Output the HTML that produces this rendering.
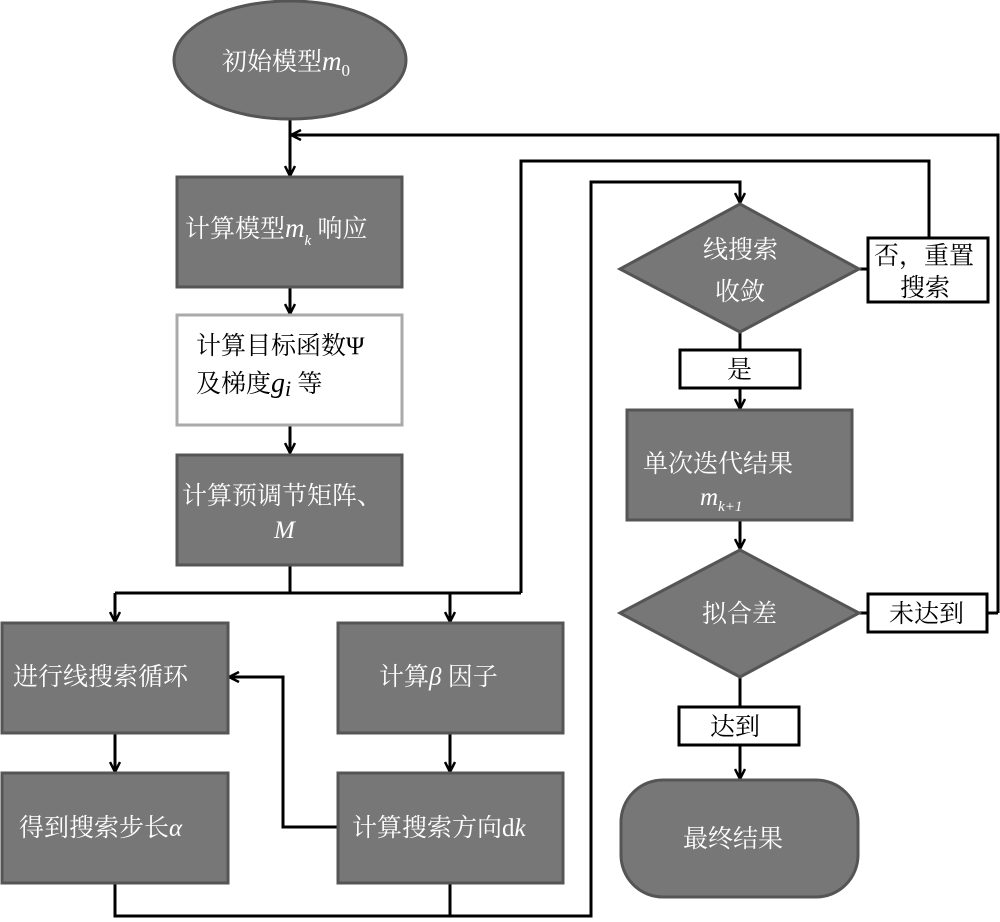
<!DOCTYPE html>
<html><head><meta charset="utf-8"><style>
html,body{margin:0;padding:0;background:#fff;}
svg{display:block;}
text{font-family:"Liberation Serif","Noto Serif CJK SC",serif;font-size:25px;}
.w{fill:#fff;}
.b{fill:#000;}
.g{fill:#777;stroke:#555;stroke-width:3;}
.ln{fill:none;stroke:#000;stroke-width:3;}
.lb{fill:#fff;stroke:#000;stroke-width:3;}
</style></head><body>
<svg width="1000" height="922" viewBox="0 0 1000 922" xmlns="http://www.w3.org/2000/svg">
<defs>
<marker id="a" viewBox="0 0 12 12" refX="11" refY="6" markerWidth="12" markerHeight="12" markerUnits="userSpaceOnUse" orient="auto">
<path d="M1,1 L11,6 L1,11" fill="none" stroke="#000" stroke-width="2.5"/>
</marker>
</defs>
<!-- connectors -->
<path class="ln" d="M290,120 L290,176" marker-end="url(#a)"/>
<path class="ln" d="M998,613 L988,613 M998,613 L998,135 L291,135" marker-end="url(#a)"/>
<path class="ln" d="M290,287 L290,314" marker-end="url(#a)"/>
<path class="ln" d="M290,425 L290,453" marker-end="url(#a)"/>
<path class="ln" d="M290,565 L290,593 M115,593 L521,593"/>
<path class="ln" d="M115,593 L115,622" marker-end="url(#a)"/>
<path class="ln" d="M450,593 L450,622" marker-end="url(#a)"/>
<path class="ln" d="M521,593 L521,161 L929,161 L929,238"/>
<path class="ln" d="M115,733 L115,772" marker-end="url(#a)"/>
<path class="ln" d="M450,733 L450,772" marker-end="url(#a)"/>
<path class="ln" d="M338,827 L283,827 L283,677 L229,677" marker-end="url(#a)"/>
<path class="ln" d="M115,883 L115,916 L591,916 L591,182 L740,182 L740,203" marker-end="url(#a)"/>
<path class="ln" d="M450,883 L450,916"/>
<path class="ln" d="M859,269 L868,269"/>
<path class="ln" d="M740,332 L740,350 M740,388 L740,409" marker-end="url(#a)"/>
<path class="ln" d="M740,520 L740,549" marker-end="url(#a)"/>
<path class="ln" d="M859,613 L868,613"/>
<path class="ln" d="M740,677 L740,707 M740,745 L740,779" marker-end="url(#a)"/>
<!-- shapes -->
<ellipse class="g" cx="290" cy="60" rx="116" ry="59"/>
<text class="w" x="222" y="70">初始模型<tspan font-style="italic" font-size="27">m</tspan><tspan font-size="17" dy="6">0</tspan></text>

<rect class="g" x="177" y="177" width="225" height="110"/>
<text class="w" x="185" y="237">计算模型<tspan font-style="italic" font-size="27">m</tspan><tspan font-style="italic" font-size="15" dy="8">k</tspan><tspan dy="-8"> 响应</tspan></text>

<rect x="177" y="315" width="225" height="110" fill="#fff" stroke="#aaa" stroke-width="3"/>
<text class="b" x="196" y="354">计算目标函数Ψ</text>
<text class="b" x="196" y="392">及梯度<tspan font-style="italic" font-size="28">g</tspan><tspan font-style="italic" font-size="22" dy="4">i</tspan><tspan dy="-4"> 等</tspan></text>

<rect class="g" x="177" y="455" width="225" height="110"/>
<text class="w" x="182" y="504">计算预调节矩阵、</text>
<text class="w" x="274" y="538" font-style="italic">M</text>

<rect class="g" x="2" y="623" width="226" height="110"/>
<text class="w" x="13" y="685">进行线搜索循环</text>
<rect class="g" x="338" y="623" width="225" height="110"/>
<text class="w" x="379" y="685">计算<tspan font-style="italic">β</tspan> 因子</text>

<rect class="g" x="2" y="773" width="226" height="110"/>
<text class="w" x="19" y="836">得到搜索步长<tspan font-style="italic">α</tspan></text>
<rect class="g" x="338" y="773" width="225" height="110"/>
<text class="w" x="352" y="836">计算搜索方向d<tspan font-style="italic">k</tspan></text>

<polygon class="g" points="740,204 859,269 740,332 620,269"/>
<text class="w" x="703" y="258">线搜索</text>
<text class="w" x="715" y="300">收敛</text>

<rect class="lb" x="868" y="238" width="120" height="64"/>
<text class="b" x="874" y="264">否，重置</text>
<text class="b" x="900" y="296">搜索</text>

<rect class="lb" x="680" y="350" width="120" height="38"/>
<text class="b" x="727" y="378">是</text>

<rect class="g" x="627" y="410" width="225" height="110"/>
<text class="w" x="643" y="472">单次迭代结果</text>
<text class="w" x="700" y="505" font-style="italic" font-size="27">m<tspan font-size="15" dy="6">k+1</tspan></text>

<polygon class="g" points="740,550 859,613 740,677 620,613"/>
<text class="w" x="702" y="622">拟合差</text>

<rect class="lb" x="868" y="594" width="119" height="38"/>
<text class="b" x="889" y="622">未达到</text>

<rect class="lb" x="679" y="707" width="120" height="38"/>
<text class="b" x="710" y="735">达到</text>

<rect class="g" x="621" y="780" width="237" height="117" rx="42" ry="42"/>
<text class="w" x="683" y="847">最终结果</text>
</svg>
</body></html>
